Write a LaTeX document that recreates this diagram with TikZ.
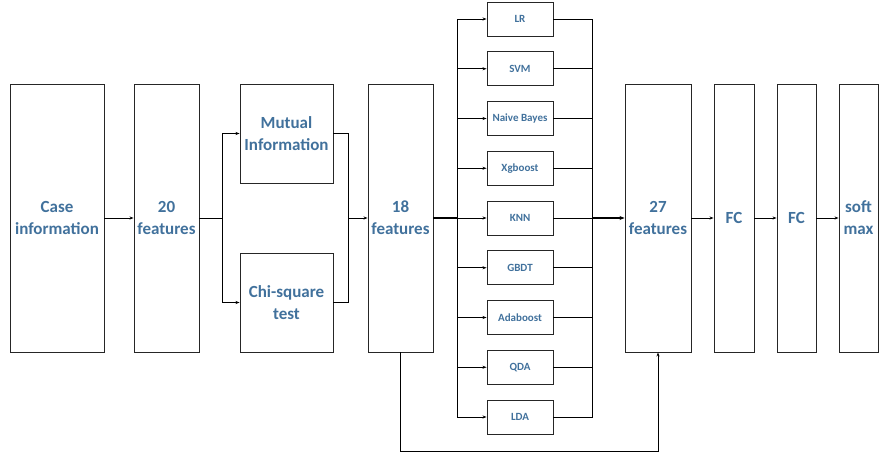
\documentclass[tikz,border=0pt]{standalone}
\usepackage{fontspec}
\setmainfont{Carlito}
\usetikzlibrary{arrows.meta}
\definecolor{txtblue}{HTML}{41719C}
\begin{document}
\begin{tikzpicture}[x=1pt,y=-1pt,
  box/.style={draw=black!85, line width=0.9pt, rectangle, inner sep=0pt, align=center,
    font=\fontsize{17}{22}\selectfont\bfseries, text=txtblue},
  tall/.style={box, minimum height=268pt},
  clf/.style={box, font=\fontsize{11}{13}\selectfont\bfseries, minimum width=66pt, minimum height=34pt},
  line/.style={line width=0.7pt, black},
  conn/.style={line, -{Stealth[length=4pt,width=3pt]}},
  thick line/.style={line width=1.5pt, black}]
\useasboundingbox (0,0) rectangle (883,457);
\node[tall, minimum width=94pt] (case) at (57,218) {Case\\information};
\node[tall, minimum width=65pt] (f20) at (166.5,218) {20\\features};
\node[box, minimum width=93pt, minimum height=99pt] (mi) at (286.5,133.5) {Mutual\\Information};
\node[box, minimum width=93pt, minimum height=99pt] (chi) at (286.5,302.5) {Chi-square\\test};
\node[tall, minimum width=65pt] (f18) at (400.5,218) {18\\features};
\node[tall, minimum width=66pt] (f27) at (658,218) {27\\features};
\node[tall, minimum width=40pt] (fc1) at (734,218) {FC};
\node[tall, minimum width=39pt] (fc2) at (796.5,218) {FC};
\node[tall, minimum width=39pt] (sm) at (858.5,218) {soft\\max};
\coordinate (s1) at (222,218);
\coordinate (m1) at (348,218);
\coordinate (split) at (457,218);
\coordinate (merge) at (592,218);
\foreach \n/\t [count=\i from 0] in {lr/LR, svm/SVM, nb/Naive Bayes, xgb/Xgboost, knn/KNN, gbdt/GBDT, ada/Adaboost, qda/QDA, lda/LDA} {
  \node[clf] (\n) at (520,19+49.75*\i) {\t};
  \draw[conn] (split) |- (\n.west);
  \draw[line] (\n.east) -| (merge);
}
\draw[conn] (case.east) -- (f20.west);
\draw[line] (f20.east) -- (s1);
\draw[conn] (s1) |- (mi.west);
\draw[conn] (s1) |- (chi.west);
\draw[line] (mi.east) -| (m1);
\draw[line] (chi.east) -| (m1);
\draw[conn] (m1) -- (f18.west);
\draw[thick line] (f18.east) -- (split);
\draw[thick line, -{Stealth[length=5pt,width=4pt]}] (merge) -- (f27.west);
\draw[conn] (f27.east) -- (fc1.west);
\draw[conn] (fc1.east) -- (fc2.west);
\draw[conn] (fc2.east) -- (sm.west);
\draw[conn] (f18.south) -- ++(0,99) -| (f27.south);
\end{tikzpicture}
\end{document}
